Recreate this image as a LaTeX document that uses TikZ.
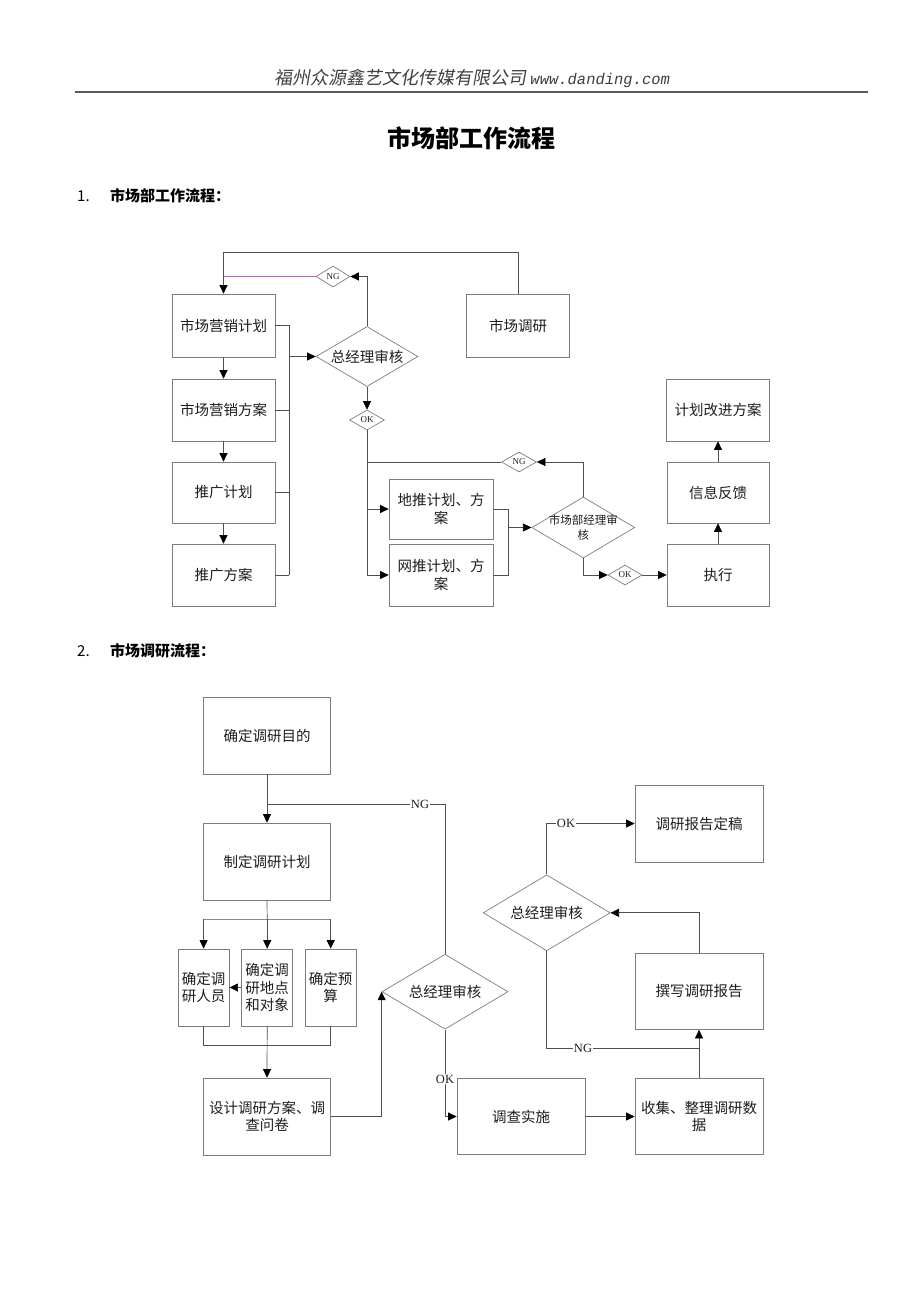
\documentclass[tikz,border=0pt]{standalone}
\usepackage{fontspec}
\usetikzlibrary{arrows.meta,shapes.geometric}
\newfontfamily\cjk{Noto Sans CJK SC}
\newfontfamily\cjkit[FakeSlant=0.18]{Noto Sans CJK SC}
\newfontfamily\monoit[FakeSlant=0.18]{Liberation Mono}
\newfontfamily\ser{Liberation Serif}
\definecolor{boxc}{RGB}{125,125,125}
\definecolor{lnc}{RGB}{80,80,80}
\definecolor{pur}{RGB}{165,115,165}
\definecolor{txt}{RGB}{30,30,30}
\begin{document}
\begin{tikzpicture}[x=1pt,y=-1pt,
  box/.style={draw=boxc, line width=0.7pt, rectangle, inner sep=1pt, align=center, text=txt,
    font=\cjk\fontsize{14.5}{18}\selectfont},
  dia/.style={draw=boxc, line width=0.7pt, diamond, inner sep=0pt},
  dtext/.style={align=center, text=txt, inner sep=0pt, font=\cjk\fontsize{14.5}{18}\selectfont},
  small/.style={align=center, text=txt, inner sep=0pt, font=\ser\fontsize{9}{9}\selectfont},
  ln/.style={draw=lnc, line width=0.7pt},
  pln/.style={draw=pur, line width=0.7pt},
  arr/.style={ln, -{Triangle[length=8.5pt,width=8pt,color=black]}},
  lab/.style={font=\ser\fontsize{12.5}{12.5}\selectfont, fill=white, inner sep=1pt, text=txt}]
\path[use as bounding box] (0,0) rectangle (920,1302);
\fill[white] (0,0) rectangle (920,1302);

% header
\node[text=black!75, inner sep=0pt] (hdr) at (472,78) {\cjkit\fontsize{18}{18}\selectfont 福州众源鑫艺文化传媒有限公司\,\monoit\fontsize{15.5}{15.5}\selectfont www.danding.com};
\draw[draw=black!65, line width=1.6pt] (75,92) -- (868,92);
\node[inner sep=0pt, text=black] (title) at (471,138) {\cjk\bfseries\fontsize{24}{24}\selectfont 市场部工作流程};
\node[anchor=west, inner sep=0pt, text=black] (h1n) at (77,196) {\cjk\fontsize{15}{15}\selectfont 1.};
\node[anchor=west, inner sep=0pt, text=black] (h1) at (110,196) {\cjk\bfseries\fontsize{15}{15}\selectfont 市场部工作流程：};
\node[anchor=west, inner sep=0pt, text=black] (h2n) at (77,651) {\cjk\fontsize{15}{15}\selectfont 2.};
\node[anchor=west, inner sep=0pt, text=black] (h2) at (110,651) {\cjk\bfseries\fontsize{15}{15}\selectfont 市场调研流程：};

% ---------- diagram 1 ----------
\node[box, minimum width=103pt, minimum height=63pt] (b1) at (223.5,325.5) {市场营销计划};
\node[box, minimum width=103pt, minimum height=62pt] (b2) at (223.5,410) {市场营销方案};
\node[box, minimum width=103pt, minimum height=61pt] (b3) at (223.5,492.5) {推广计划};
\node[box, minimum width=103pt, minimum height=62pt] (b4) at (223.5,575) {推广方案};
\node[box, minimum width=103pt, minimum height=63pt] (rs) at (518,325.5) {市场调研};
\node[dia, minimum width=102pt, minimum height=60pt] (d1) at (367,356.5) {};
\node[dtext] (d1t) at (d1.center) {总经理审核};
\node[dia, minimum width=34pt, minimum height=21pt] (ng1) at (333,276.5) {};
\node[small] (ng1t) at (ng1.center) {NG};
\node[dia, minimum width=35pt, minimum height=20pt] (ok1) at (367,420) {};
\node[small] (ok1t) at (ok1.center) {OK};
\node[box, minimum width=104pt, minimum height=60pt] (dt) at (441,509) {地推计划、方\\案};
\node[box, minimum width=104pt, minimum height=62pt] (wt) at (441,575) {网推计划、方\\案};
\node[dia, minimum width=103pt, minimum height=61pt] (d2) at (583.3,527.5) {};
\node[dtext, font=\cjk\fontsize{11.5}{15}\selectfont] (d2t) at (d2.center) {市场部经理审\\核};
\node[dia, minimum width=35pt, minimum height=20pt] (ng2) at (519,462) {};
\node[small] (ng2t) at (ng2.center) {NG};
\node[dia, minimum width=34pt, minimum height=20pt] (ok2) at (625,575) {};
\node[small] (ok2t) at (ok2.center) {OK};
\node[box, minimum width=102pt, minimum height=62pt] (zx) at (718,575) {执行};
\node[box, minimum width=102pt, minimum height=61pt] (xx) at (718,492.5) {信息反馈};
\node[box, minimum width=103pt, minimum height=62pt] (jh) at (718,410) {计划改进方案};

\coordinate (t1) at (223.5,252);
\coordinate (bus) at (289,575);
\coordinate (m4) at (508,575);

\draw[arr] (b1.south) -- (b2.north);
\draw[arr] (b2.south) -- (b3.north);
\draw[arr] (b3.south) -- (b4.north);
\draw[arr] (rs.north) |- (t1) -- (b1.north);
\draw[arr] (d1.north) |- (ng1.east);
\draw[pln] (ng1.west) -- (ng1.west -| t1);
\draw[ln] (b1.east) -| (bus);
\draw[ln] (b2.east) -- (b2.east -| bus);
\draw[ln] (b3.east) -- (b3.east -| bus);
\draw[ln] (b4.east) -- (bus);
\draw[arr] (d1.west -| bus) -- (d1.west);
\draw[arr] (d1.south) -- (ok1.north);
\draw[arr] (ok1.south) |- (dt.west);
\draw[arr] (ok1.south) |- (wt.west);
\draw[arr] (d2.north) |- (ng2.east);
\draw[ln] (ng2.west) -- (ng2.west -| ok1.south);
\draw[ln] (dt.east) -| (m4) -- (wt.east);
\draw[arr] (d2.west -| m4) -- (d2.west);
\draw[arr] (d2.south) |- (ok2.west);
\draw[arr] (ok2.east) -- (zx.west);
\draw[arr] (zx.north) -- (xx.south);
\draw[arr] (xx.north) -- (jh.south);

% ---------- diagram 2 ----------
\node[box, minimum width=127pt, minimum height=77pt] (A) at (267,735.5) {确定调研目的};
\node[box, minimum width=127pt, minimum height=77pt] (B) at (267,861.5) {制定调研计划};
\node[box, minimum width=51pt, minimum height=77pt, font=\cjk\fontsize{14.5}{17.5}\selectfont] (C1) at (203.6,987.5) {确定调\\研人员};
\node[box, minimum width=51pt, minimum height=77pt, font=\cjk\fontsize{14.5}{17.5}\selectfont] (C2) at (267.2,987.5) {确定调\\研地点\\和对象};
\node[box, minimum width=51pt, minimum height=77pt, font=\cjk\fontsize{14.5}{17.5}\selectfont] (C3) at (330.7,987.5) {确定预\\算};
\node[box, minimum width=127pt, minimum height=77pt, font=\cjk\fontsize{14.5}{17}\selectfont] (D) at (267,1116.5) {设计调研方案、调\\查问卷};
\node[dia, minimum width=126pt, minimum height=75pt] (E) at (445,991.7) {};
\node[dtext] (Et) at (E.center) {总经理审核};
\node[box, minimum width=128pt, minimum height=76pt] (F) at (521,1116.5) {调查实施};
\node[box, minimum width=128pt, minimum height=76pt, font=\cjk\fontsize{14.5}{17}\selectfont] (G) at (699,1116.5) {收集、整理调研数\\据};
\node[box, minimum width=128pt, minimum height=76pt] (H) at (699,991.5) {撰写调研报告};
\node[dia, minimum width=127pt, minimum height=76pt] (I) at (546.7,912.8) {};
\node[dtext] (It) at (I.center) {总经理审核};
\node[box, minimum width=128pt, minimum height=77pt] (J) at (699,823.5) {调研报告定稿};

\coordinate (ngc) at (267,804.3);
\coordinate (bl) at (203.6,919);
\coordinate (bm) at (267.2,919);
\coordinate (br) at (330.7,919);
\coordinate (cb) at (330.7,1045);
\coordinate (ngd) at (699,1048.3);

\draw[arr] (A.south) -- (B.north);
\draw[ln] (E.north) |- (ngc);
\node[lab] (ngl) at (420,804.3) {NG};
\draw[ln] (B.south) -- (bm);
\draw[pln] (bl) -- (br);
\draw[arr] (bl) -- (C1.north);
\draw[arr] (bm) -- (C2.north);
\draw[arr] (br) -- (C3.north);
\draw[arr] (C2.west) -- (C1.east);
\draw[ln] (C1.south) |- (cb) -- (C3.south);
\draw[arr] (C2.south) -- (D.north);
\draw[arr] (D.east) -| (E.west);
\draw[arr] (E.south) |- (F.west);
\node[lab] (okl) at (445,1079) {OK};
\draw[arr] (F.east) -- (G.west);
\draw[arr] (G.north) -- (H.south);
\draw[arr] (H.north) |- (I.east);
\draw[arr] (I.north) |- (J.west);
\node[lab] (okl2) at (566,823.5) {OK};
\draw[ln] (I.south) |- (ngd);
\node[lab] (ngl2) at (583,1048.3) {NG};
\end{tikzpicture}
\end{document}
